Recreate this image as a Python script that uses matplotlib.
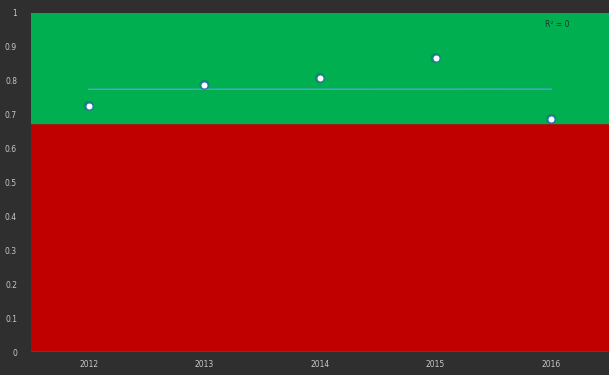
import numpy as np
import matplotlib.pyplot as plt

# data
years = ['2012', '2013', '2014', '2015', '2016']
values = [0.726, 0.788, 0.808, 0.867, 0.687]
threshold = 0.675
y_ticks = [0, 0.1, 0.2, 0.3, 0.4, 0.5, 0.6, 0.7, 0.8, 0.9, 1]
y_tick_labels = ['0', '0.1', '0.2', '0.3', '0.4', '0.5', '0.6', '0.7', '0.8', '0.9', '1']

fig = plt.figure(figsize=(6.09, 3.75), dpi=100)
fig.patch.set_facecolor('#2f2f2f')
ax = fig.add_axes([31 / 609, 23 / 375, 578 / 609, 339 / 375])

x = np.arange(len(years))
ax.set_xlim(-0.5, len(years) - 0.5)
ax.set_ylim(0, 1)

# coloured bands
ax.axhspan(0, threshold, color='#c00000', zorder=0)
ax.axhspan(threshold, 1, color='#00b050', zorder=0)
ax.axhline(0, color='#e05050', lw=1, zorder=1)

# linear trend (flat here)
coef = np.polyfit(x, values, 1)
ax.plot(x, np.polyval(coef, x), color='#4fa8d0', lw=1, zorder=2)

# soft dark halo then white marker
ax.scatter(x, values, s=55, facecolor='#1f4e79', edgecolor='none', alpha=0.35, zorder=3)
ax.scatter(x, values, s=26, facecolor='white', edgecolor='#2e75b6', linewidth=0.8, zorder=4)

ax.text(0.91, 0.965, 'R² = 0', transform=ax.transAxes, fontsize=5.5,
        color='#1a3a2a', ha='center', va='center')

ax.set_xticks(x)
ax.set_xticklabels(years)
ax.set_yticks(y_ticks)
ax.set_yticklabels(y_tick_labels)
ax.tick_params(colors='#c8c8c8', labelsize=5.5, length=0)
ax.tick_params(axis='x', pad=6)
ax.tick_params(axis='y', pad=10)
for s in ax.spines.values():
    s.set_visible(False)

fig.savefig('out.png', dpi=100, facecolor=fig.get_facecolor())
